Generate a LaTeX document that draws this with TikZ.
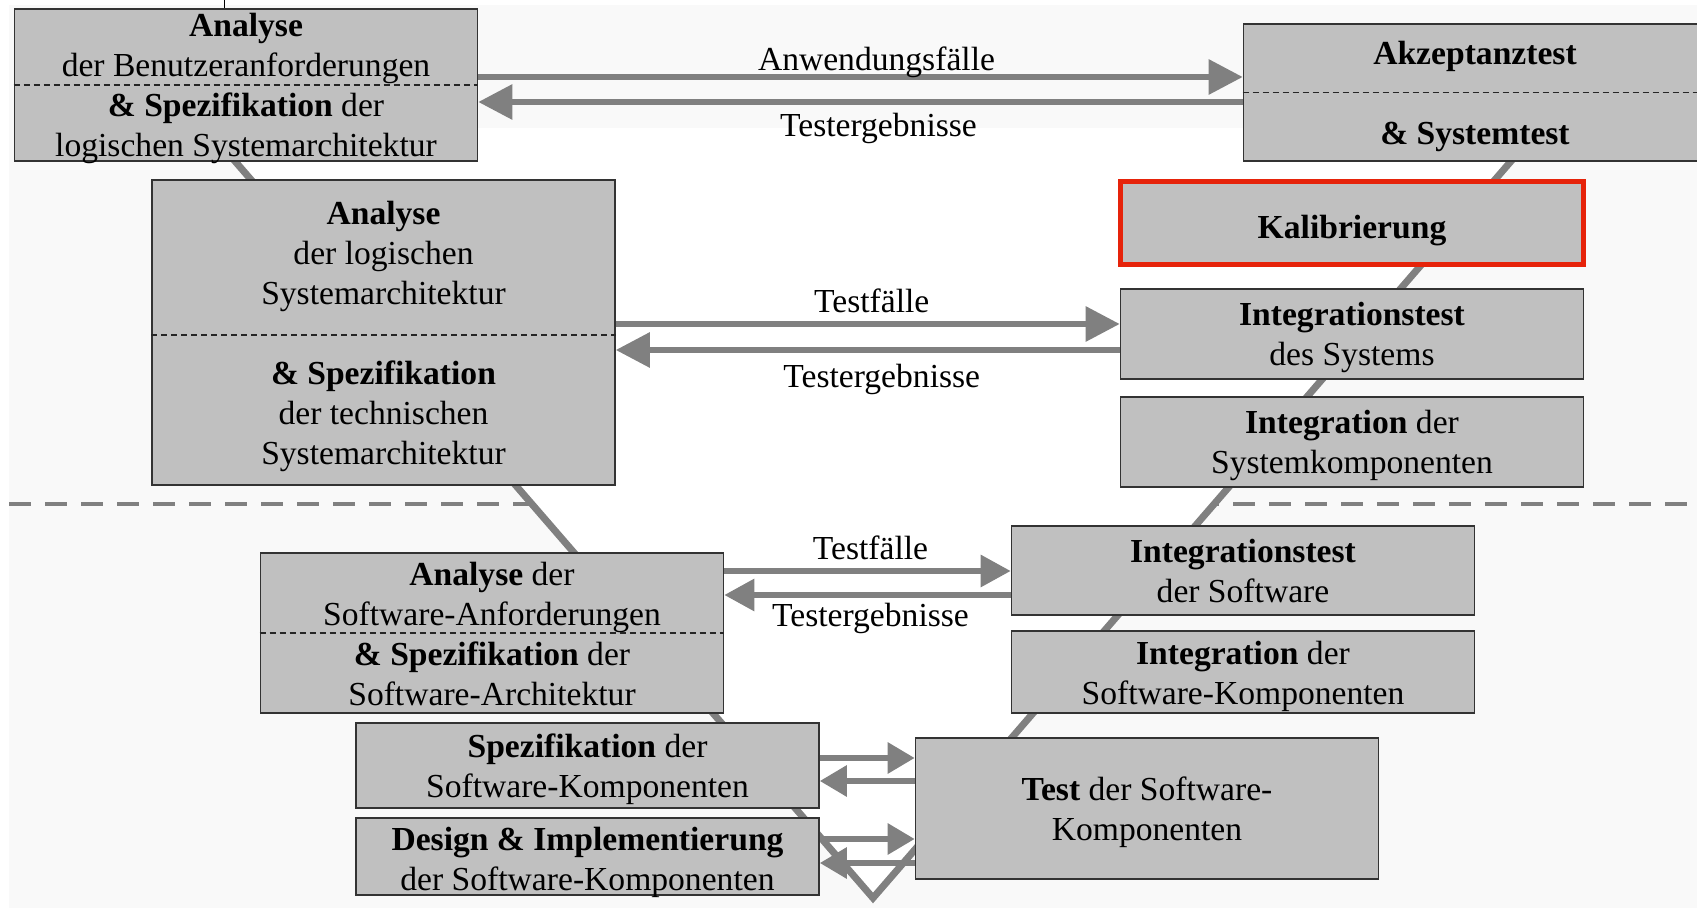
\documentclass[tikz,border=0pt]{standalone}
\usepackage{fontspec}
\setmainfont{Liberation Serif}
\usetikzlibrary{arrows.meta}

\definecolor{boxgrau}{RGB}{192,192,192}
\definecolor{liniengrau}{RGB}{128,128,128}
\definecolor{hintergrau}{RGB}{249,249,249}
\definecolor{kalrot}{RGB}{230,35,10}

% Zeilenstuetzen oben und unten
\newcommand{\zeileoben}{\rule{0pt}{16pt}}
\newcommand{\zeileunten}{\rule[-4pt]{0pt}{4pt}}
\newcommand{\ohnetiefe}[1]{\raisebox{0pt}[\height][0pt]{#1}}

\begin{document}
\begin{tikzpicture}[x=0.5pt, y=-0.5pt, line join=miter,
	font=\fontsize{16.8}{20}\selectfont,
	>={Triangle[length=17pt, width=17pt]},
	stufe/.style={draw=black!80, line width=0.8pt, fill=boxgrau, text=black,
		minimum width=231.5pt, align=center, inner sep=0pt},
	pfeil/.style={->, draw=liniengrau, line width=3pt},
	kleinpfeil/.style={pfeil, >={Triangle[length=15pt, width=15.5pt]}},
	kompfeil/.style={pfeil, >={Triangle[length=13.5pt, width=15pt]}},
	trenn/.style={draw=black!85, line width=0.6pt, dash pattern=on 3pt off 2pt},
	vlinie/.style={draw=liniengrau, line width=3.5pt}]

	\clip (0, 0) rectangle (1697, 908);

	% Hintergrund
	\fill[hintergrau] (9, 5) rectangle (1697, 908);
	\draw[liniengrau, line width=2pt, dash pattern=on 11pt off 7pt] (9, 504) -- (1697, 504);
	\fill[white] (206, 128) -- (1540, 128) -- (873, 904) -- cycle;

	% V-Linie
	\draw[vlinie] (182, 100) -- (873, 898) -- (1564, 100);
	\draw[black, line width=0.5pt] (224, 0) -- (224, 9);

	% Linke Seite
	\node[stufe, minimum height=76pt] (a1) at (246, 85)
		{\rule{0pt}{13.8pt}\textbf{Analyse}\\der Benutzeranforderungen\\\textbf{\& Spezifikation} der\\\ohnetiefe{logischen Systemarchitektur}\rule[-2.2pt]{0pt}{2.2pt}};
	\node[stufe, minimum height=152.5pt] (a2) at (383.5, 332.5)
		{\zeileoben\textbf{Analyse}\\der logischen\\Systemarchitektur\\[20pt]\textbf{\& Spezifikation}\\der technischen\\Systemarchitektur\zeileunten};
	\node[stufe, minimum height=80pt] (a3) at (492, 633)
		{\zeileoben\textbf{Analyse} der\\Software-Anforderungen\\\textbf{\& Spezifikation} der\\Software-Architektur\zeileunten};
	\node[stufe, minimum height=42.5pt] (spk) at (587.5, 765.5)
		{\zeileoben\textbf{Spezifikation} der\\Software-Komponenten\zeileunten};
	\node[stufe, minimum height=38.5pt] (des) at (587.5, 856.5)
		{\zeileoben\textbf{Design \& Implementierung}\\\ohnetiefe{der Software-Komponenten}\rule[-2.5pt]{0pt}{2.5pt}};

	% Rechte Seite
	\node[stufe, minimum height=68.5pt] (akz) at (1475, 92.5)
		{\zeileoben\textbf{Akzeptanztest}\\[20pt]\textbf{\& Systemtest}\zeileunten};
	\node[stufe, draw=kalrot, line width=2.5pt, minimum height=41.5pt] (kal) at (1352, 223)
		{\rule{0pt}{19pt}\textbf{Kalibrierung}};
	\node[stufe, minimum height=45pt] (ints) at (1352, 334)
		{\zeileoben\textbf{Integrationstest}\\des Systems\zeileunten};
	\node[stufe, minimum height=45pt] (intk) at (1352, 442)
		{\zeileoben\textbf{Integration} der\\Systemkomponenten\zeileunten};
	\node[stufe, minimum height=44.5pt] (intsw) at (1243, 570.5)
		{\zeileoben\textbf{Integrationstest}\\der Software\zeileunten};
	\node[stufe, minimum height=41pt] (intswk) at (1243, 672)
		{\zeileoben\textbf{Integration} der\\Software-Komponenten\zeileunten};
	\node[stufe, minimum height=70.5pt] (tsk) at (1147, 808.5)
		{\zeileoben\textbf{Test} der Software-\\Komponenten\zeileunten};

	% Trennlinien in den Kaesten
	\draw[trenn] (a1.west) -- (a1.east);
	\draw[trenn] (akz.west) -- (akz.east);
	\draw[trenn] (a2.west |- 0, 335) -- (a2.east |- 0, 335);
	\draw[trenn] (a3.west) -- (a3.east);

	% Testfaelle und Testergebnisse
	\draw[pfeil] (a1.east |- 0, 77) -- node[midway, above=-5pt, xshift=8pt] {Anwendungsfälle} (akz.west |- 0, 77);
	\draw[pfeil] (akz.west |- 0, 102) -- node[midway, below=1pt, xshift=9pt] {Testergebnisse} (a1.east |- 0, 102);
	\draw[pfeil] (a2.east |- 0, 324) -- node[midway, above=1pt, xshift=2pt] {Testfälle} (ints.west |- 0, 324);
	\draw[pfeil] (ints.west |- 0, 350) -- node[midway, below=2.5pt, xshift=7pt] {Testergebnisse} (a2.east |- 0, 350);
	\draw[kleinpfeil] (a3.east |- 0, 571) -- node[midway, above=1pt, xshift=1.5pt] {Testfälle} (intsw.west |- 0, 571);
	\draw[kleinpfeil] (intsw.west |- 0, 595) -- node[midway, below=-0.5pt, xshift=1.5pt] {Testergebnisse} (a3.east |- 0, 595);

	% Komponentenebene
	\draw[kompfeil] (spk.east |- 0, 758) -- (tsk.west |- 0, 758);
	\draw[kompfeil] (tsk.west |- 0, 781) -- (spk.east |- 0, 781);
	\draw[kompfeil] (des.east |- 0, 839) -- (tsk.west |- 0, 839);
	\draw[kompfeil] (tsk.west |- 0, 863) -- (des.east |- 0, 863);
\end{tikzpicture}
\end{document}
